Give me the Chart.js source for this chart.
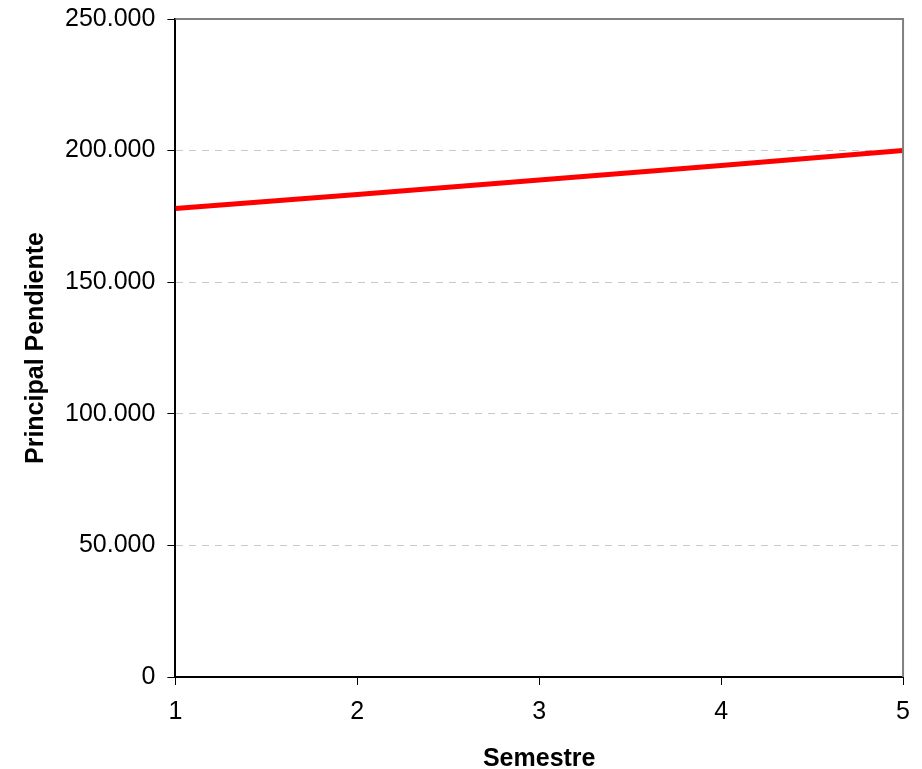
<!DOCTYPE html>
<html>
<head>
<meta charset="utf-8">
<script src="https://cdn.jsdelivr.net/npm/chart.js@4/dist/chart.umd.min.js"></script>
<style>
  html, body { margin: 0; padding: 0; background: #fff; }
  #wrap { width: 922px; height: 769px; }
</style>
</head>
<body>
<div id="wrap"><canvas id="grafico"></canvas></div>
<script>
// Datos
const semestres = [1, 2, 3, 4, 5];
const principalPendiente = [178000, 183300, 188800, 194300, 200000];
const ticksY = [0, 50000, 100000, 150000, 200000, 250000];

const fuente = "'Liberation Sans', Arial, sans-serif";

// Formato con punto de miles
const formatoMiles = (v) => String(v).replace(/\B(?=(\d{3})+(?!\d))/g, '.');

// Marco gris arriba y a la derecha
const marco = {
    id: 'marco',
    afterDraw(chart) {
        const { ctx, chartArea: a } = chart;
        ctx.save();
        ctx.strokeStyle = '#808080';
        ctx.lineWidth = 2;
        ctx.beginPath();
        ctx.moveTo(a.left, a.top);
        ctx.lineTo(a.right, a.top);
        ctx.lineTo(a.right, a.bottom);
        ctx.stroke();
        ctx.restore();
    }
};

new Chart(document.getElementById('grafico'), {
    type: 'line',
    data: {
        datasets: [{
            data: semestres.map((s, i) => ({ x: s, y: principalPendiente[i] })),
            borderColor: '#ff0000',
            borderWidth: 5,
            pointRadius: 0,
            tension: 0,
            fill: false
        }]
    },
    options: {
        responsive: true,
        maintainAspectRatio: false,
        animation: false,
        layout: { padding: { top: 19, right: 17, left: 21, bottom: -3 } },
        plugins: {
            legend: { display: false },
            tooltip: { enabled: false }
        },
        scales: {
            x: {
                type: 'linear',
                min: 1,
                max: 5,
                ticks: { stepSize: 1, color: '#000', font: { family: fuente, size: 25 }, padding: 12 },
                grid: { drawOnChartArea: false, tickLength: 8, tickColor: '#000' },
                border: { color: '#000', width: 2 },
                title: { display: true, text: 'Semestre', color: '#000', font: { family: fuente, size: 25, weight: 'bold', lineHeight: 1 }, padding: { top: 8, bottom: 0 } }
            },
            y: {
                min: 0,
                max: 250000,
                afterBuildTicks: (axis) => { axis.ticks = ticksY.map(v => ({ value: v })); },
                ticks: { color: '#000', font: { family: fuente, size: 25, lineHeight: 0.5 }, padding: 12, callback: (v) => formatoMiles(v) },
                grid: {
                    tickLength: 8,
                    tickColor: '#000',
                    color: (c) => (c.tick && (c.tick.value === 0 || c.tick.value === 250000)) ? 'rgba(0,0,0,0)' : '#c8c8c8',
                    lineWidth: 1
                },
                border: { color: '#000', width: 2, dash: [7, 6] },
                title: { display: true, text: 'Principal Pendiente', color: '#000', font: { family: fuente, size: 25, weight: 'bold' }, padding: { top: 0, bottom: 2 } }
            }
        }
    },
    plugins: [marco]
});
</script>
</body>
</html>
